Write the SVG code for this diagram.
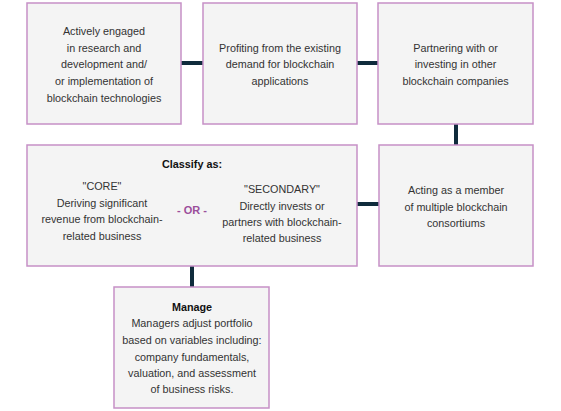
<svg xmlns="http://www.w3.org/2000/svg" width="561" height="411" viewBox="0 0 561 411">
<style>
.box{fill:#f4f4f4;stroke:#c690c6;stroke-width:1.5}
.t{font-family:"Liberation Sans",Arial,sans-serif;font-size:10.8px;fill:#333;text-anchor:middle}
.b{font-weight:bold;fill:#111}
.or{font-family:"Liberation Sans",Arial,sans-serif;font-size:11px;font-weight:bold;fill:#9b4f9b;text-anchor:middle}
.c{stroke:#0f2b3c;stroke-width:4;fill:none}
</style>
<rect width="561" height="411" fill="#fff"/>
<g id="connectors">
<line class="c" x1="181" y1="63" x2="203" y2="63"/>
<line class="c" x1="357" y1="63" x2="378" y2="63"/>
<line class="c" x1="456" y1="124" x2="456" y2="145"/>
<line class="c" x1="357" y1="204" x2="379" y2="204"/>
<line class="c" x1="192" y1="266" x2="192" y2="287"/>
</g>
<g id="node1">
<rect class="box" x="27" y="3" width="154" height="121"/>
<text class="t" x="104" y="35">Actively engaged</text>
<text class="t" x="104" y="52">in research and</text>
<text class="t" x="104" y="68">development and/</text>
<text class="t" x="104" y="85">or implementation of</text>
<text class="t" x="104" y="102">blockchain technologies</text>
</g>
<g id="node2">
<rect class="box" x="203" y="3" width="154" height="121"/>
<text class="t" x="280" y="52">Profiting from the existing</text>
<text class="t" x="280" y="68">demand for blockchain</text>
<text class="t" x="280" y="85">applications</text>
</g>
<g id="node3">
<rect class="box" x="378" y="3" width="155" height="121"/>
<text class="t" x="455.5" y="52">Partnering with or</text>
<text class="t" x="455.5" y="68">investing in other</text>
<text class="t" x="455.5" y="85">blockchain companies</text>
</g>
<g id="node4">
<rect class="box" x="27" y="145" width="330" height="121"/>
<text class="t b" x="192" y="168">Classify as:</text>
<text class="t" x="102" y="190">"CORE"</text>
<text class="t" x="102" y="207">Deriving significant</text>
<text class="t" x="102" y="223">revenue from blockchain-</text>
<text class="t" x="102" y="240">related business</text>
<text class="or" x="192" y="214">- OR -</text>
<text class="t" x="282" y="193">"SECONDARY"</text>
<text class="t" x="282" y="210">Directly invests or</text>
<text class="t" x="282" y="226">partners with blockchain-</text>
<text class="t" x="282" y="242">related business</text>
</g>
<g id="node5">
<rect class="box" x="379" y="145" width="154" height="121"/>
<text class="t" x="456" y="194">Acting as a member</text>
<text class="t" x="456" y="211">of multiple blockchain</text>
<text class="t" x="456" y="227">consortiums</text>
</g>
<g id="node6">
<rect class="box" x="114" y="287" width="155" height="121"/>
<text class="t b" x="192" y="311">Manage</text>
<text class="t" x="192" y="327">Managers adjust portfolio</text>
<text class="t" x="192" y="344">based on variables including:</text>
<text class="t" x="192" y="361">company fundamentals,</text>
<text class="t" x="192" y="377">valuation, and assessment</text>
<text class="t" x="192" y="393">of business risks.</text>
</g>
</svg>
